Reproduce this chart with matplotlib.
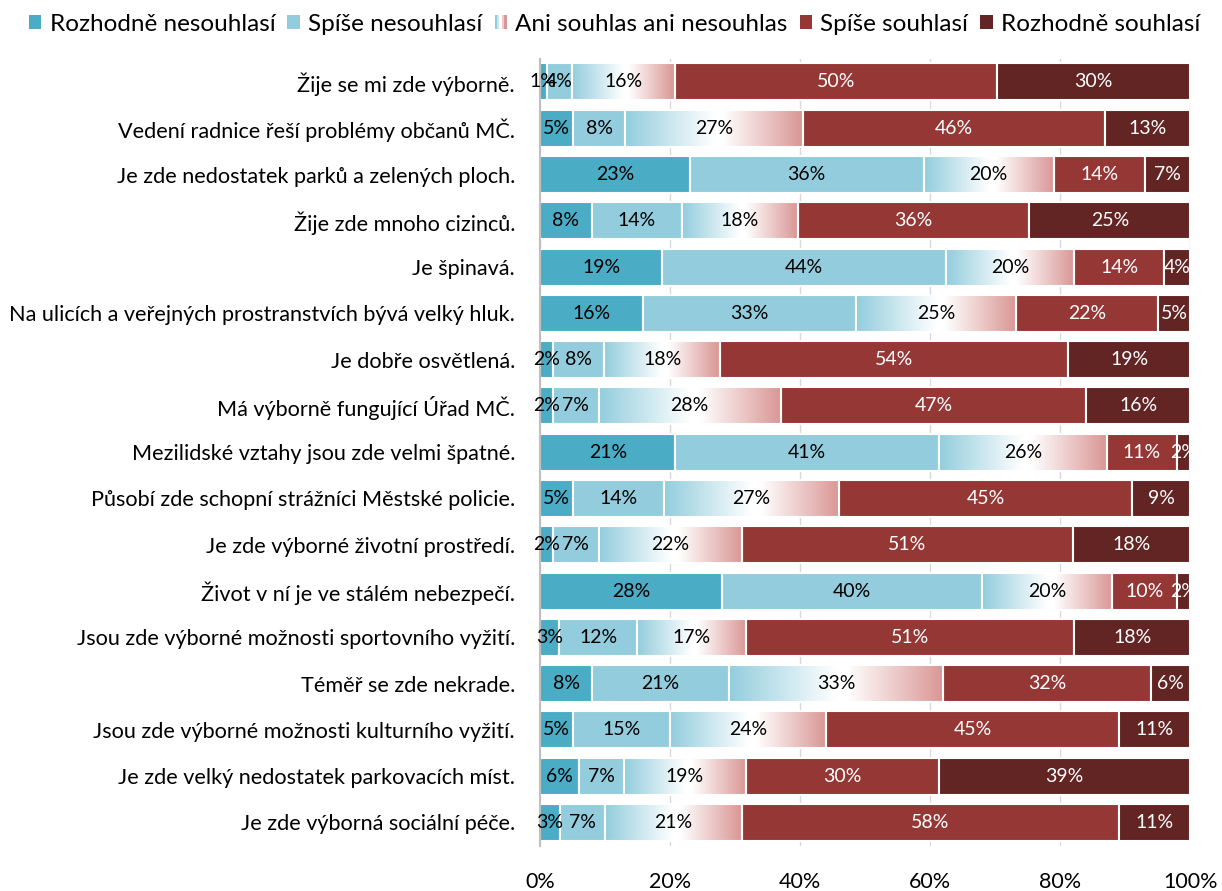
import numpy as np
import matplotlib
matplotlib.use("Agg")
import matplotlib.pyplot as plt
from matplotlib.colors import LinearSegmentedColormap
from matplotlib.patches import Rectangle
from matplotlib.legend_handler import HandlerBase

plt.rcParams['font.family'] = ['Lato', 'DejaVu Sans']

categories = [
    "Žije se mi zde výborně.",
    "Vedení radnice řeší problémy občanů MČ.",
    "Je zde nedostatek parků a zelených ploch.",
    "Žije zde mnoho cizinců.",
    "Je špinavá.",
    "Na ulicích a veřejných prostranstvích bývá velký hluk.",
    "Je dobře osvětlená.",
    "Má výborně fungující Úřad MČ.",
    "Mezilidské vztahy jsou zde velmi špatné.",
    "Působí zde schopní strážníci Městské policie.",
    "Je zde výborné životní prostředí.",
    "Život v ní je ve stálém nebezpečí.",
    "Jsou zde výborné možnosti sportovního vyžití.",
    "Téměř se zde nekrade.",
    "Jsou zde výborné možnosti kulturního vyžití.",
    "Je zde velký nedostatek parkovacích míst.",
    "Je zde výborná sociální péče.",
]
series_names = ["Rozhodně nesouhlasí", "Spíše nesouhlasí", "Ani souhlas ani nesouhlas",
                "Spíše souhlasí", "Rozhodně souhlasí"]
rozhodne_nesouhlasi = [1, 5, 23, 8, 19, 16, 2, 2, 21, 5, 2, 28, 3, 8, 5, 6, 3]
spise_nesouhlasi   = [4, 8, 36, 14, 44, 33, 8, 7, 41, 14, 7, 40, 12, 21, 15, 7, 7]
ani_ani            = [16, 27, 20, 18, 20, 25, 18, 28, 26, 27, 22, 20, 17, 33, 24, 19, 21]
spise_souhlasi     = [50, 46, 14, 36, 14, 22, 54, 47, 11, 45, 51, 10, 51, 32, 45, 30, 58]
rozhodne_souhlasi  = [30, 13, 7, 25, 4, 5, 19, 16, 2, 9, 18, 2, 18, 6, 11, 39, 11]
x_ticks = [0, 20, 40, 60, 80, 100]

series = [rozhodne_nesouhlasi, spise_nesouhlasi, ani_ani, spise_souhlasi, rozhodne_souhlasi]
colors = ["#4BACC6", "#93CDDD", None, "#953735", "#632523"]
text_colors = ["black", "black", "black", "white", "white"]

grad_cmap = LinearSegmentedColormap.from_list(
    "grad", [(0.0, "#93CDDD"), (0.5, "#FFFFFF"), (0.55, "#FFFFFF"), (1.0, "#D99694")])

fig = plt.figure(figsize=(12.22, 8.91), dpi=100)
ax = fig.add_axes([0.442, 0.051, 0.532, 0.883])

data = np.array(series, dtype=float)
totals = data.sum(axis=0)
pct = data / totals * 100.0
n = len(categories)
ypos = np.arange(n)
h = 0.8
left = np.zeros(n)
gradient = np.linspace(0, 1, 256).reshape(1, -1)

for k in range(len(series)):
    widths = pct[k]
    if colors[k] is not None:
        ax.barh(ypos, widths, left=left, height=h, color=colors[k],
                edgecolor="white", linewidth=1.5, zorder=2)
    else:
        for i in range(n):
            ax.imshow(gradient, extent=[left[i], left[i] + widths[i], ypos[i] + h / 2, ypos[i] - h / 2],
                      aspect='auto', cmap=grad_cmap, interpolation='bilinear', zorder=2)
        ax.barh(ypos, widths, left=left, height=h, facecolor="none",
                edgecolor="white", linewidth=1.5, zorder=3)
    for i in range(n):
        ax.text(left[i] + widths[i] / 2, ypos[i], f"{series[k][i]:d}%",
                ha="center", va="center", fontsize=14, color=text_colors[k], zorder=4)
    left += widths

ax.set_xlim(0, 100)
ax.set_ylim(n - 0.5, -0.5)
ax.set_yticks(ypos)
ax.set_yticklabels(categories, fontsize=15.6)
ax.set_xticks(x_ticks)
ax.set_xticklabels([f"{t}%" for t in x_ticks], fontsize=15.5)
ax.tick_params(axis='y', length=0, pad=18)
ax.tick_params(axis='x', length=0, pad=19)
ax.grid(axis='x', color="#D9D9D9", linewidth=1, zorder=0)
ax.set_axisbelow(True)
for s in ["top", "right", "bottom"]:
    ax.spines[s].set_visible(False)
ax.spines["left"].set_color("#BFBFBF")
ax.spines["left"].set_linewidth(1.5)


class GradHandler(HandlerBase):
    def create_artists(self, legend, orig_handle, xdescent, ydescent, width, height, fontsize, trans):
        arts = []
        cols = ["#93CDDD", "#C9E6EE", "#FFFFFF", "#ECCBCA", "#D99694"]
        nstr = len(cols)
        for j, c in enumerate(cols):
            r = Rectangle((-xdescent + j * width / nstr, -ydescent), width / nstr + 0.01, height,
                          facecolor=c, edgecolor="none", transform=trans)
            arts.append(r)
        return arts


handles = []
for k in range(5):
    if colors[k] is None:
        handles.append(Rectangle((0, 0), 1, 1, facecolor="white"))
    else:
        handles.append(Rectangle((0, 0), 1, 1, facecolor=colors[k]))
grad_handle = handles[2]
fig.legend(handles, series_names, loc="center", bbox_to_anchor=(0.503, 0.973), ncol=5,
           frameon=False, fontsize=17.5, handlelength=0.5, handleheight=0.5,
           handletextpad=0.35, columnspacing=0.5,
           handler_map={grad_handle: GradHandler()})

fig.savefig("out.png", dpi=100)
